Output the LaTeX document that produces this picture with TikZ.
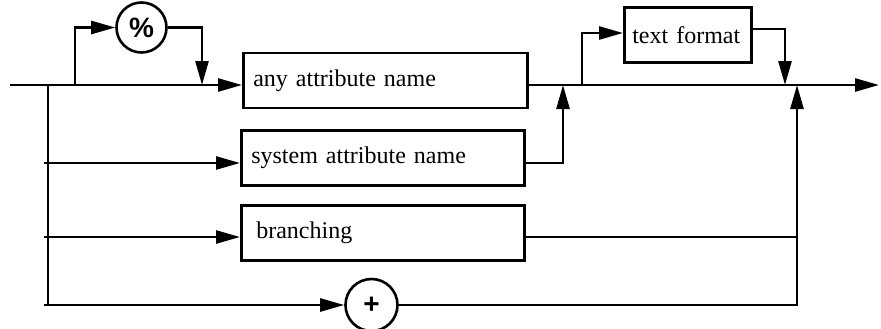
\documentclass[tikz,border=0pt]{standalone}
\usepackage{fontspec}
\setmainfont{Liberation Serif}
\newfontfamily\symfont{Liberation Sans}
\usetikzlibrary{arrows.meta}

\tikzset{
	synbox/.style={draw, line width=2.6bp, rectangle, inner xsep=10bp, inner ysep=0pt, minimum height=55bp, align=left, anchor=west},
	syncirc/.style={draw, line width=2.6bp, circle, minimum size=50bp, inner sep=0pt, font=\symfont\bfseries\fontsize{28bp}{30bp}\selectfont},
	flow/.style={line width=2.6bp, -{Triangle[length=24bp,width=13bp]}},
	plain/.style={line width=2.6bp}
}

\begin{document}
\begin{tikzpicture}[x=10bp, y=-10bp, font=\fontsize{24bp}{28bp}\selectfont]
	\useasboundingbox (0,0) rectangle (88.1,32.9);
	% boxes and circles
	\node[synbox, text width=264bp] (any) at (24.2,8.05) {any attribute name};
	\node[synbox, text width=263bp] (sys) at (24.0,15.8) {system attribute name};
	\node[synbox, text width=253bp, inner xsep=15bp] (br) at (24.0,23.3) {branching};
	\node[synbox, text width=111bp, inner xsep=8bp] (tf) at (62.3,3.5) {text format};
	\node[syncirc] (pct) at (14.15,2.75) {\%};
	\node[syncirc, minimum size=52bp] (plus) at (37.15,30.5) {+};
	% points on the main line
	\coordinate (start) at (1.0,8.5);
	\coordinate (trunk) at (4.8,8.5);
	\coordinate (skip) at (7.5,8.5);
	\coordinate (drop) at (20.2,8.5);
	\coordinate (join) at (56.3,8.5);
	\coordinate (fmt) at (58.2,8.5);
	\coordinate (back) at (78.5,8.5);
	\coordinate (merge) at (79.7,8.5);
	\coordinate (end) at (87.9,8.5);
	% branch starts and the loop over text format
	\coordinate (b1) at (4.4,16.3);
	\coordinate (b2) at (4.4,23.7);
	\coordinate (b3) at (4.4,30.5);
	\coordinate (tfin) at (58.2,3.3);
	\coordinate (tfout) at (78.5,2.9);
	% left part
	\draw[flow] (start) -- (start -| any.west);
	\draw[plain] (trunk) -- (trunk |- b3);
	\draw[flow] (skip) -- (skip |- pct.west) -- (pct.west);
	\draw[flow] (pct.east) -- (drop |- pct.east) -- (drop);
	\draw[flow] (b1) -- (b1 -| sys.west);
	\draw[flow] (b2) -- (b2 -| br.west);
	\draw[flow] (b3) -- (plus.west);
	% right part
	\draw[flow] (any.east |- start) -- (end);
	\draw[flow] (sys.east |- b1) -- (join |- b1) -- (join);
	\draw[flow] (fmt) -- (tfin) -- (tfin -| tf.west);
	\draw[flow] (tfout -| tf.east) -- (tfout) -- (back);
	\draw[plain] (br.east |- b2) -- (merge |- b2);
	\draw[flow] (plus.east) -- (merge |- plus.east) -- (merge);
\end{tikzpicture}
\end{document}
